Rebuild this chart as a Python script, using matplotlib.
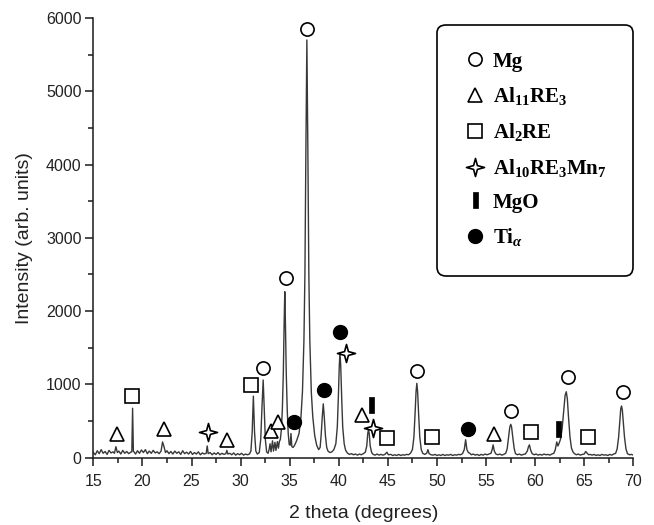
import matplotlib
matplotlib.use("Agg")
import matplotlib.pyplot as plt
from matplotlib.lines import Line2D
from matplotlib.path import Path
from matplotlib.ticker import MultipleLocator
from matplotlib.font_manager import FontProperties

plt.rcParams['font.family'] = ['Liberation Sans', 'DejaVu Sans']
plt.rcParams['mathtext.fontset'] = 'custom'
plt.rcParams['mathtext.rm'] = 'Liberation Serif:bold'
plt.rcParams['mathtext.bf'] = 'Liberation Serif:bold'
plt.rcParams['mathtext.it'] = 'Liberation Serif:bold:italic'

# ---------------- data ----------------
two_theta = [
    15.0, 15.2, 15.4, 15.6, 15.8, 16.0, 16.2, 16.4, 16.6, 16.8, 17.0, 17.15, 17.3, 17.45,
    17.6, 17.8, 18.0, 18.2, 18.4, 18.6, 18.8, 18.92, 19.0, 19.08, 19.3, 19.5, 19.7, 19.9,
    20.1, 20.3, 20.5, 20.7, 20.9, 21.1, 21.3, 21.5, 21.7, 21.9, 22.05, 22.2, 22.35, 22.5,
    22.7, 22.9, 23.1, 23.3, 23.5, 23.7, 23.9, 24.1, 24.3, 24.5, 24.7, 24.9, 25.1, 25.3,
    25.5, 25.7, 25.9, 26.1, 26.3, 26.5, 26.6, 26.7, 26.9, 27.1, 27.3, 27.5, 27.7, 27.9,
    28.1, 28.3, 28.5, 28.6, 28.7, 28.9, 29.1, 29.3, 29.5, 29.7, 29.9, 30.1, 30.3, 30.5,
    30.7, 30.9, 31.05, 31.18, 31.3, 31.42, 31.55, 31.7, 31.9, 32.05, 32.18, 32.3, 32.4,
    32.52, 32.65, 32.8, 32.9, 33.0, 33.1, 33.25, 33.35, 33.5, 33.6, 33.75, 33.85, 33.95,
    34.05, 34.15, 34.25, 34.35, 34.43, 34.5, 34.57, 34.65, 34.75, 34.85, 34.95, 35.05,
    35.13, 35.22, 35.35, 35.5, 35.7, 35.95, 36.15, 36.3, 36.45, 36.55, 36.65, 36.75,
    36.85, 36.95, 37.05, 37.2, 37.35, 37.55, 37.75, 37.95, 38.1, 38.2, 38.32, 38.42,
    38.52, 38.64, 38.77, 38.9, 39.1, 39.3, 39.5, 39.7, 39.85, 39.95, 40.05, 40.12, 40.2,
    40.3, 40.4, 40.55, 40.7, 40.9, 41.1, 41.3, 41.5, 41.7, 41.9, 42.1, 42.3, 42.5, 42.7,
    42.85, 42.95, 43.02, 43.1, 43.2, 43.35, 43.5, 43.7, 43.9, 44.1, 44.3, 44.5, 44.7,
    44.9, 45.05, 45.3, 45.5, 45.7, 45.9, 46.1, 46.3, 46.5, 46.7, 46.9, 47.1, 47.3, 47.5,
    47.65, 47.77, 47.87, 47.95, 48.03, 48.13, 48.25, 48.4, 48.55, 48.75, 48.95, 49.08,
    49.2, 49.4, 49.6, 49.8, 50.0, 50.2, 50.4, 50.6, 50.8, 51.0, 51.2, 51.4, 51.6, 51.8,
    52.0, 52.2, 52.4, 52.6, 52.78, 52.92, 53.05, 53.2, 53.35, 53.5, 53.7, 53.9, 54.1,
    54.3, 54.5, 54.7, 54.9, 55.1, 55.3, 55.5, 55.62, 55.72, 55.84, 56.0, 56.2, 56.4, 56.6,
    56.8, 57.0, 57.15, 57.3, 57.42, 57.52, 57.6, 57.72, 57.87, 58.0, 58.2, 58.4, 58.6,
    58.8, 59.0, 59.2, 59.32, 59.42, 59.55, 59.7, 59.9, 60.1, 60.3, 60.5, 60.7, 60.9, 61.1,
    61.3, 61.5, 61.7, 61.9, 62.05, 62.2, 62.32, 62.45, 62.6, 62.75, 62.9, 63.05, 63.17,
    63.28, 63.4, 63.55, 63.7, 63.85, 64.0, 64.2, 64.4, 64.6, 64.8, 65.0, 65.15, 65.3,
    65.45, 65.6, 65.8, 66.0, 66.2, 66.4, 66.6, 66.8, 67.0, 67.2, 67.4, 67.6, 67.8, 68.0,
    68.2, 68.35, 68.5, 68.62, 68.72, 68.8, 68.88, 68.98, 69.1, 69.25, 69.4, 69.6, 69.8, 70.0,
]
intensity = [
    70, 40, 95, 55, 110, 60, 85, 45, 100, 65, 80, 60, 150, 70,
    90, 50, 100, 60, 85, 55, 75, 80, 675, 90, 50, 95, 60, 105,
    70, 110, 55, 90, 60, 100, 65, 80, 55, 90, 215, 150, 70, 95,
    55, 85, 50, 90, 60, 80, 45, 95, 55, 75, 50, 85, 45, 70,
    50, 80, 40, 65, 50, 60, 160, 55, 70, 40, 65, 45, 70, 40,
    60, 45, 55, 100, 50, 60, 40, 65, 35, 55, 40, 60, 35, 50,
    40, 50, 90, 350, 840, 350, 90, 50, 70, 250, 700, 1060, 700,
    250, 80, 60, 110, 190, 80, 230, 90, 210, 100, 220, 130, 220,
    250, 380, 650, 1150, 1800, 2265, 1800, 1150, 650, 330, 180, 170,
    330, 150, 140, 170, 230, 330, 560, 900, 1600, 2500, 4200, 5700,
    4200, 2500, 1600, 900, 560, 300, 170, 110, 140, 300, 560, 735,
    560, 300, 140, 90, 70, 80, 110, 190, 420, 800, 1250, 1430, 1250,
    800, 420, 190, 100, 60, 45, 55, 40, 50, 35, 50, 40, 55, 75,
    160, 330, 380, 330, 160, 70, 45, 35, 50, 35, 45, 35, 45,
    75, 40, 45, 30, 40, 30, 45, 30, 40, 35, 45, 40, 60, 110,
    280, 600, 900, 1015, 900, 600, 280, 110, 60, 45, 60, 110,
    55, 40, 35, 45, 30, 40, 30, 45, 30, 40, 35, 45, 30, 40,
    35, 45, 40, 55, 110, 245, 110, 70, 60, 40, 50, 35, 45,
    30, 45, 35, 50, 40, 50, 60, 110, 175, 90, 50, 40, 50, 35,
    45, 60, 120, 280, 420, 455, 420, 280, 120, 55, 40, 50, 35,
    45, 50, 90, 150, 175, 100, 55, 40, 50, 35, 45, 35, 50, 40,
    45, 35, 50, 60, 110, 215, 160, 200, 260, 400, 620, 850, 900,
    800, 550, 280, 130, 80, 55, 40, 50, 35, 45, 50, 85, 60,
    40, 45, 35, 45, 30, 40, 30, 45, 35, 40, 30, 45, 35, 50,
    60, 120, 280, 500, 670, 705, 650, 480, 280, 120, 55, 40, 45, 35,
]

# phase marker positions (2theta, intensity)
mg_x = [32.31, 34.6, 36.75, 47.95, 57.5, 63.3, 68.9]
mg_y = [1230, 2450, 5850, 1180, 636, 1100, 895]
al11re3_x = [17.4, 22.2, 28.6, 33.06, 33.84, 42.4, 55.8]
al11re3_y = [330, 390, 240, 370, 490, 580, 330]
al2re_x = [18.97, 31.06, 44.94, 49.46, 59.54, 65.4]
al2re_y = [845, 990, 264, 286, 354, 278]
al10re3mn7_x = [26.7, 40.73, 43.5]
al10re3mn7_y = [354, 1422, 400]
mgo_x = [43.28, 62.3]
mgo_y = [718, 391]
ti_x = [35.44, 38.52, 40.12, 53.19]
ti_y = [490, 922, 1717, 391]

legend_labels = ['Mg', r'Al$_{11}$RE$_{3}$', r'Al$_{2}$RE', r'Al$_{10}$RE$_{3}$Mn$_{7}$',
                 'MgO', r'Ti$_{\alpha}$']

# ---------------- marker shapes ----------------
r = 0.3
c = 0.7071
star_path = Path([(0, 1), (r * c, r * c), (1, 0), (r * c, -r * c), (0, -1),
                  (-r * c, -r * c), (-1, 0), (-r * c, r * c), (0, 1)], closed=True)
bar_path = Path([(-0.15, -0.5), (0.15, -0.5), (0.15, 0.5), (-0.15, 0.5), (-0.15, -0.5)],
                closed=True)

styles = [
    dict(marker='o', mfc='white', mec='black', ms=9.5, mew=1.2),
    dict(marker='^', mfc='white', mec='black', ms=10.5, mew=1.2),
    dict(marker='s', mfc='white', mec='black', ms=9.5, mew=1.2),
    dict(marker=star_path, mfc='white', mec='black', ms=13, mew=1.2),
    dict(marker=bar_path, mfc='black', mec='black', ms=12, mew=0.5),
    dict(marker='o', mfc='black', mec='black', ms=10, mew=1.0),
]
xs = [mg_x, al11re3_x, al2re_x, al10re3mn7_x, mgo_x, ti_x]
ys = [mg_y, al11re3_y, al2re_y, al10re3mn7_y, mgo_y, ti_y]

# ---------------- figure ----------------
fig = plt.figure(figsize=(6.54, 5.25), dpi=100)
ax = fig.add_axes([0.1427, 0.1282, 0.8257, 0.8375])

ax.plot(two_theta, intensity, color='#383838', lw=1.0, zorder=2)
for x, y, st in zip(xs, ys, styles):
    ax.plot(x, y, ls='none', zorder=3, clip_on=False, **st)

ax.set_xlim(15, 70)
ax.set_ylim(0, 6000)
ax.xaxis.set_major_locator(MultipleLocator(5))
ax.xaxis.set_minor_locator(MultipleLocator(2.5))
ax.yaxis.set_major_locator(MultipleLocator(1000))
ax.yaxis.set_minor_locator(MultipleLocator(500))

for s in ['top', 'right']:
    ax.spines[s].set_visible(False)
for s in ['left', 'bottom']:
    ax.spines[s].set_linewidth(1.1)
    ax.spines[s].set_color('#1a1a1a')

ax.tick_params(which='major', direction='out', length=6, width=1.1, color='#1a1a1a',
               labelsize=11.5, labelcolor='#222222')
ax.tick_params(which='minor', direction='out', length=3.5, width=1.1, color='#1a1a1a')
ax.tick_params(axis='x', which='major', pad=6)
ax.tick_params(axis='y', which='major', pad=2.5)

ax.set_xlabel('2 theta (degrees)', fontsize=14, color='#222222')
ax.set_ylabel('Intensity (arb. units)', fontsize=14, color='#222222')
ax.xaxis.set_label_coords(0.5, -0.126)
ax.xaxis.label.set_va('center')
ax.yaxis.set_label_coords(-0.128, 0.5)
ax.yaxis.label.set_va('center')

handles = [Line2D([], [], ls='none', **st) for st in styles]
leg = ax.legend(handles, legend_labels, loc='upper right', bbox_to_anchor=(1.0, 0.985),
                borderaxespad=0, frameon=True, fancybox=True, framealpha=1,
                edgecolor='black', handlelength=1.0, handletextpad=0.35,
                labelspacing=0.66, borderpad=1.3,
                prop=FontProperties(family='Liberation Serif', weight='bold', size=15))
leg.get_frame().set_linewidth(1.2)
leg.get_frame().set_boxstyle('round,pad=0,rounding_size=0.4')

fig.savefig('out.png', dpi=100)
